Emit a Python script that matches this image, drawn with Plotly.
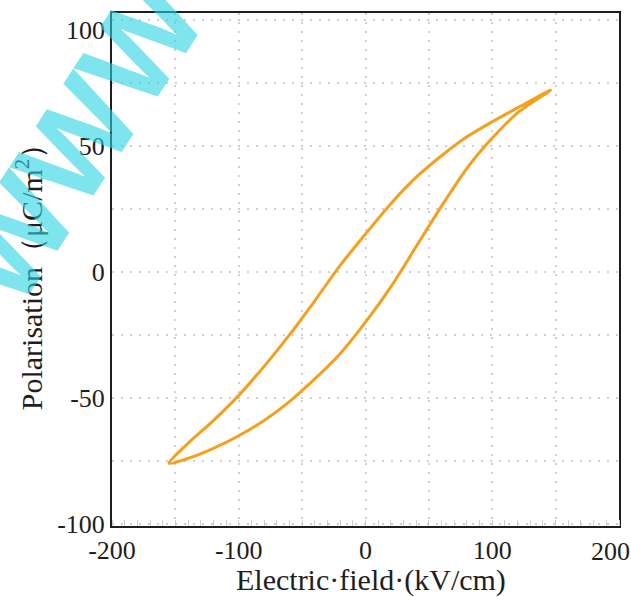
import plotly.graph_objects as go

# loop: upper branch (field going down), lower branch (field going up)
e_upper = [146, 120, 100, 80, 60, 40, 20, 0, -20, -40, -60, -80, -100, -120, -140, -155]
p_upper = [72, 65, 59.5, 53.5, 46, 37.5, 27, 15, 2.5, -11.5, -25, -37.5, -49, -59, -68, -76]
e_lower = [-155, -140, -120, -100, -80, -60, -40, -20, 0, 20, 40, 60, 80, 100, 120, 146]
p_lower = [-76, -74, -70, -65, -59, -51.5, -42.5, -32.5, -20, -6, 10, 26, 41, 53, 63, 72]

x_ticks = [-200, -150, -100, -50, 0, 50, 100, 150]
x_labels = ["-200", "", "-100", "", "0", "", "100", ""]
y_ticks = [-100, -75, -50, -25, 0, 25, 50, 75, 100]
y_labels = ["-100", "", "-50", "", "0", "", "50", "", ""]

orange = "#F5A01C"
serif = "Liberation Serif, Times New Roman, serif"
ink = "#1e1e1e"

fig = go.Figure()
fig.add_trace(go.Scatter(x=e_upper + e_lower[1:], y=p_upper + p_lower[1:],
                         mode="lines", line=dict(color=orange, width=3, shape="spline", smoothing=0.8),
                         showlegend=False, hoverinfo="skip"))

axis_common = dict(showline=True, linecolor=ink, linewidth=2, mirror=True, automargin=False,
                   zeroline=False, ticks="", tickfont=dict(family=serif, size=26, color=ink),
                   gridcolor="#cfcfcf", griddash="2px,7px", gridwidth=1.5)

fig.update_xaxes(range=[-200, 200], tickvals=x_ticks, ticktext=x_labels, **axis_common,
                 minor=dict(dtick=10, ticks="inside", ticklen=6, tickcolor="#cfcfcf", showgrid=False))
fig.update_yaxes(range=[-100.8, 102.6], tickvals=y_ticks, ticktext=y_labels, **axis_common,
                 title=dict(text="Polarisation（μC/m<sup>2</sup>）", font=dict(family=serif, size=30, color=ink), standoff=6))

# x title placed by hand so it sits lower, as in the original
fig.add_annotation(x=0.51, y=0, xref="paper", yref="paper", yshift=-54, yanchor="middle",
                   text="Electric·field·(kV/cm)", showarrow=False,
                   font=dict(family=serif, size=30, color=ink))

# labels pushed in from the edges of the picture
fig.add_annotation(x=200, y=0, xref="x", yref="paper", xshift=-9, yshift=-9, yanchor="top", text="200",
                   showarrow=False, font=dict(family=serif, size=26, color=ink))
fig.add_annotation(x=0, y=100, xref="paper", yref="y", xshift=-5, yshift=-11, xanchor="right", text="100",
                   showarrow=False, font=dict(family=serif, size=26, color=ink))

# watermark
fig.add_annotation(x=-0.07, y=0.75, xref="paper", yref="paper", xanchor="center", yanchor="middle",
                   text="<b>WWW</b>", textangle=-57, showarrow=False,
                   font=dict(family="Liberation Sans, Arial", size=125, color="rgba(40,210,225,0.6)"))

fig.update_layout(width=631, height=597, plot_bgcolor="white", paper_bgcolor="white",
                  margin=dict(l=112, r=12, t=13, b=71, autoexpand=False))

fig.write_html("out.html", config={"displayModeBar": False},
               post_script="document.body.style.margin='0';")
